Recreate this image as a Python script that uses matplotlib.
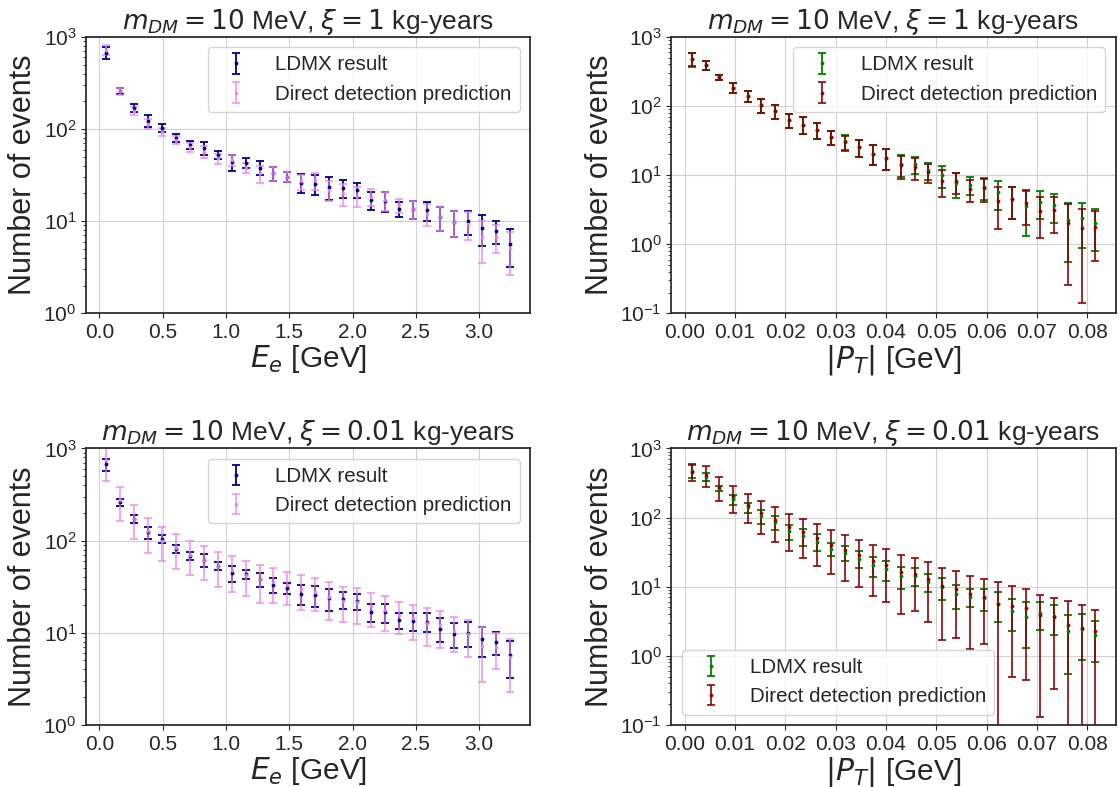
import numpy as np
import matplotlib
matplotlib.use('Agg')
import matplotlib.pyplot as plt
import seaborn as sns

# Bin centres
e_centres = [0.055, 0.165, 0.275, 0.385, 0.495, 0.605, 0.715, 0.825, 0.935, 1.045,
             1.155, 1.265, 1.375, 1.485, 1.595, 1.705, 1.815, 1.925, 2.035, 2.145,
             2.255, 2.365, 2.475, 2.585, 2.695, 2.805, 2.915, 3.025, 3.135, 3.245]
pt_centres = [0.0014, 0.0042, 0.0069, 0.0097, 0.0125, 0.0152, 0.0180, 0.0208, 0.0235, 0.0263,
              0.0291, 0.0318, 0.0346, 0.0374, 0.0401, 0.0429, 0.0457, 0.0484, 0.0512, 0.0540,
              0.0567, 0.0595, 0.0623, 0.0650, 0.0678, 0.0706, 0.0733, 0.0761, 0.0789, 0.0816]

# LDMX electron energy spectrum
ldmx_e = [670, 260, 171, 123, 104, 81, 68, 62, 53, 44, 43, 38, 33, 30.5, 26.3,
          25.6, 23.6, 23, 22, 16.9, 16.6, 13.7, 13.5, 13.2, 11.1, 9.8, 10, 8.5, 7.9, 5.7]
ldmx_e_err = [100, 21, 17, 18, 10, 8.5, 6.7, 10, 5.5, 8.5, 5, 6.5, 6, 4, 6.3,
              6.4, 6.5, 5, 4.3, 3.7, 4, 2.6, 3, 3.1, 3.2, 3, 3, 3.1, 2.2, 2.5]

# Direct detection prediction, xi = 1 kg-years
dd_e_1 = [725, 258, 159, 115, 94, 77, 64, 57, 48, 46, 38, 33, 33, 30.5, 27,
          27.8, 22, 20, 19, 18.4, 17, 14.9, 13.5, 12.1, 11, 9.8, 9.4, 6.8, 6.8, 5.1]
dd_e_1_err = [95, 21, 15, 15, 9, 8, 7, 8.5, 6, 6, 5, 7, 6, 4, 5,
              5.8, 5.5, 5.4, 4.8, 3.7, 4, 2.6, 3, 3.2, 3.2, 3, 3.2, 3.3, 2.3, 2.5]

# Direct detection prediction, xi = 0.01 kg-years
dd_e_001 = [748, 275, 172, 126, 100, 83, 70, 62, 53, 48, 42.5, 38, 35.5, 33, 30,
            28, 24.5, 22, 21.5, 19.3, 17.7, 15.6, 14.3, 12.9, 12, 10.5, 9.6, 7.2, 7, 5.4]
dd_e_001_err = [300, 110, 69, 52, 40, 34, 28, 25, 22, 20, 17.5, 17, 14.5, 13, 12.3,
                11, 10.8, 9, 9, 7.8, 7.2, 5.8, 5.9, 5.7, 5.1, 4.4, 4.1, 4.3, 3, 3.1]

# LDMX transverse momentum spectrum
ldmx_pt = [474, 388, 263, 184, 140, 104, 85, 63, 54, 45, 35.5, 30.8, 25.5, 20.4, 17.8,
           14.4, 14.4, 11.8, 10, 7.7, 7.2, 6.8, 5.7, 4.5, 3.6, 4.15, 3.7, 2.25, 2.43, 2.0]
ldmx_pt_err = [106, 55, 22, 30, 25, 24, 19.5, 15, 15, 12, 8, 7.5, 7, 6.5, 5.8,
               5.1, 4.1, 3.3, 3.5, 3, 2.1, 2.4, 2.6, 2.2, 2.3, 1.8, 1.7, 1.7, 1.55, 1.2]

dd_pt_1 = [485, 388, 263, 184, 140, 104, 85, 63, 54, 45, 35.5, 30, 25.5, 20.4, 17.8,
           14, 13.2, 11.2, 8.3, 8.1, 6.3, 6.5, 4.25, 4.5, 4.0, 3.04, 3.15, 2.06, 1.7, 1.8]
dd_pt_1_err = [106, 55, 22, 30, 25, 24, 19.5, 15, 15, 12, 8, 7.5, 7, 6.5, 5.8,
               5.1, 4.6, 3.4, 3.5, 2.7, 2.2, 2.4, 2.6, 2.2, 2.1, 1.8, 1.7, 1.8, 1.56, 1.23]

dd_pt_001 = [464, 412, 280, 202, 152, 117, 93, 73, 61, 50.5, 40.7, 34, 29, 23.7, 20.7,
             16.5, 15.2, 12.8, 10.1, 9.25, 7.85, 7.2, 5.7, 5.3, 4.85, 3.9, 3.6, 2.8, 2.5, 2.3]
dd_pt_001_err = [130, 137, 104, 86, 68, 59, 48, 40, 35, 30.5, 25.4, 22, 19, 16.3, 14.8,
                 12.5, 10.8, 9.7, 8.4, 7.45, 6.6, 5.7, 5.9, 4.8, 4.4, 3.77, 3.27, 3.3, 3.0, 2.35]

sns.set_style('ticks', {'axes.grid': True, 'grid.color': '.82'})
plt.rcParams['font.family'] = ['Liberation Sans', 'DejaVu Sans']
plt.rcParams['mathtext.fontset'] = 'dejavusans'

fig, axes = plt.subplots(2, 2, figsize=(11.2, 7.87), dpi=100)
plt.subplots_adjust(left=0.077, right=0.996, top=0.953, bottom=0.079,
                    wspace=0.318, hspace=0.489)


def panel(ax, x, y1, e1, y2, e2, c1, c2, alpha, title, xlabel, ylim, loc):
    '''Draw LDMX result and direct detection prediction on one log axis.'''
    ax.errorbar(x, y1, yerr=e1, fmt='.', color=c1, ms=3.5, capsize=2.6,
                elinewidth=1.3, capthick=1.3, label='LDMX result')
    ax.errorbar(x, y2, yerr=e2, fmt='.', color=c2, ms=3.5, capsize=2.6,
                elinewidth=1.3, capthick=1.3, alpha=alpha,
                label='Direct detection prediction')
    ax.set_yscale('log', nonpositive='clip')
    ax.set_ylim(*ylim)
    ax.set_title(title, fontsize=19, pad=4)
    ax.set_xlabel(xlabel, fontsize=21.5, labelpad=1)
    ax.set_ylabel('Number of events', fontsize=22)
    ax.tick_params(axis='both', which='major', labelsize=15)
    for s in ax.spines.values():
        s.set_color('.15')
        s.set_linewidth(1.25)
    ax.legend(loc=loc, fontsize=14.8, handlelength=2.0, handletextpad=0.9)


t1 = r'$m_{DM} = 10$ MeV, $\xi = 1$ kg-years'
t2 = r'$m_{DM} = 10$ MeV, $\xi = 0.01$ kg-years'

panel(axes[0, 0], e_centres, ldmx_e, ldmx_e_err, dd_e_1, dd_e_1_err,
      'darkblue', 'violet', 0.75, t1, r'$E_e$ [GeV]', (1, 1e3), 'upper right')
panel(axes[0, 1], pt_centres, ldmx_pt, ldmx_pt_err, dd_pt_1, dd_pt_1_err,
      'green', 'darkred', 0.9, t1, r'$|P_T|$ [GeV]', (0.1, 1e3), 'upper right')
panel(axes[1, 0], e_centres, ldmx_e, ldmx_e_err, dd_e_001, dd_e_001_err,
      'darkblue', 'violet', 0.75, t2, r'$E_e$ [GeV]', (1, 1e3), 'upper right')
panel(axes[1, 1], pt_centres, ldmx_pt, ldmx_pt_err, dd_pt_001, dd_pt_001_err,
      'green', 'darkred', 0.9, t2, r'$|P_T|$ [GeV]', (0.1, 1e3), 'lower left')

for ax in axes[:, 0]:
    ax.set_xticks([0.0, 0.5, 1.0, 1.5, 2.0, 2.5, 3.0])
for ax in axes[:, 1]:
    ax.set_xticks([0.0, 0.01, 0.02, 0.03, 0.04, 0.05, 0.06, 0.07, 0.08])
    ax.set_xticklabels(['0.00', '0.01', '0.02', '0.03', '0.04', '0.05', '0.06', '0.07', '0.08'])

plt.savefig('out.png', dpi=100)
